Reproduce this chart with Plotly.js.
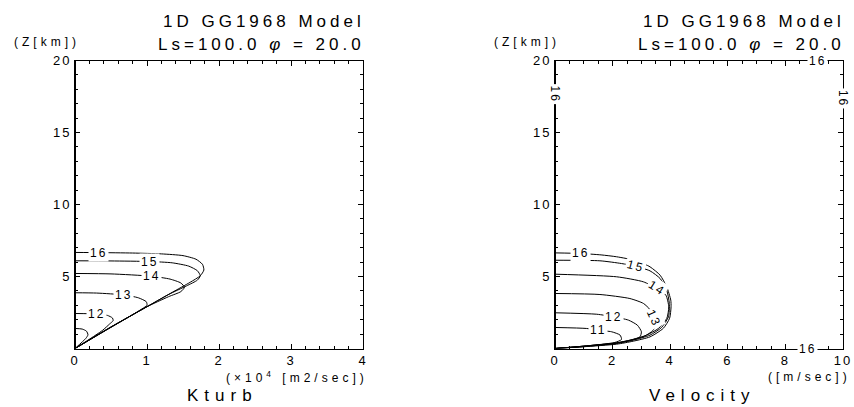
<!DOCTYPE html>
<html>
<head>
<meta charset="utf-8">
<script src="https://cdn.plot.ly/plotly-3.0.1.min.js"></script>
<style>
  html, body { margin: 0; padding: 0; background: #fff; }
  svg text { letter-spacing: 2px; }
  .annotation-text { letter-spacing: 4px; }
  .annotation-text[data-unformatted="11"], .annotation-text[data-unformatted="12"],
  .annotation-text[data-unformatted="13"], .annotation-text[data-unformatted="14"],
  .annotation-text[data-unformatted="15"], .annotation-text[data-unformatted="16"] { letter-spacing: 2px; }
  .annotation-text[data-unformatted="Kturb"], .annotation-text[data-unformatted="Velocity"] { letter-spacing: 6px; }
</style>
</head>
<body>
<div id="chart" style="width:854px;height:407px;"></div>
<script>
// ---------------- data ----------------
const hours = [11, 12, 13, 14, 15, 16];

// Kturb profiles (x10^4 m2/sec) vs height Z (km)
const kturb11X = [0, 0.10, 0.16, 0.18, 0.15, 0];
const kturb11Z = [1.39, 1.35, 1.20, 0.95, 0.70, 0];
const kturb12X = [0, 0.30, 0.45, 0.52, 0.53, 0.48, 0.38, 0];
const kturb12Z = [2.43, 2.40, 2.30, 2.12, 1.94, 1.70, 1.25, 0];
const kturb13X = [0, 0.30, 0.68, 0.88, 0.99, 1.00, 0.93, 0.80, 0.45, 0];
const kturb13Z = [3.87, 3.85, 3.72, 3.52, 3.25, 3.00, 2.75, 2.35, 1.35, 0];
const kturb14X = [0, 0.50, 1.06, 1.32, 1.47, 1.52, 1.47, 1.30, 0.98, 0.50, 0];
const kturb14Z = [5.21, 5.18, 5.02, 4.82, 4.55, 4.25, 3.95, 3.60, 2.85, 1.47, 0];
const kturb15X = [0, 0.50, 1.04, 1.35, 1.58, 1.70, 1.74, 1.70, 1.55, 1.30, 0.99, 0.50, 0];
const kturb15Z = [6.09, 6.08, 6.04, 5.95, 5.72, 5.40, 5.05, 4.75, 4.35, 3.75, 2.88, 1.48, 0];
const kturb16X = [0, 0.32, 0.80, 1.20, 1.50, 1.68, 1.77, 1.79, 1.74, 1.60, 1.35, 1.00, 0.50, 0];
const kturb16Z = [6.67, 6.66, 6.63, 6.57, 6.45, 6.20, 5.85, 5.45, 5.05, 4.60, 3.90, 2.90, 1.50, 0];
const kturbLabelIdx = [null, 1, 2, 2, 2, 1];

// Velocity profiles (m/sec) vs height Z (km)
const vel11X = [0, 1.10, 1.50, 1.97, 2.26, 2.31, 2.08, 0.98, 0];
const vel11Z = [1.46, 1.39, 1.27, 1.16, 0.93, 0.63, 0.42, 0.16, 0];
const vel12X = [0, 1.45, 2.03, 2.55, 2.86, 3.00, 2.95, 2.60, 2.14, 0.98, 0];
const vel12Z = [2.48, 2.38, 2.20, 1.97, 1.62, 1.16, 0.81, 0.58, 0.39, 0.16, 0];
const vel13X = [0, 1.56, 2.60, 3.07, 3.30, 3.44, 3.50, 3.40, 3.10, 2.60, 2.00, 1.00, 0];
const vel13Z = [3.82, 3.75, 3.47, 3.13, 2.70, 2.15, 1.70, 1.25, 0.85, 0.55, 0.33, 0.13, 0];
const vel14X = [0, 2.14, 3.07, 3.53, 3.85, 3.95, 3.88, 3.59, 3.18, 2.72, 2.14, 0.98, 0];
const vel14Z = [5.16, 4.98, 4.63, 4.17, 3.70, 2.89, 2.08, 1.39, 0.93, 0.63, 0.39, 0.16, 0];
const vel15X = [0, 1.56, 2.31, 2.78, 3.30, 3.65, 3.88, 3.97, 3.94, 3.70, 3.30, 2.72, 2.14, 0.98, 0];
const vel15Z = [6.13, 6.09, 5.90, 5.72, 5.39, 4.86, 4.05, 3.13, 2.20, 1.46, 0.93, 0.58, 0.35, 0.14, 0];
const vel16X = [0, 0.87, 1.60, 2.14, 2.84, 3.30, 3.65, 3.88, 4.02, 4.03, 3.98, 3.76, 3.30, 2.72, 2.14, 0.98, 0];
const vel16Z = [6.64, 6.60, 6.50, 6.37, 6.09, 5.67, 5.09, 4.28, 3.36, 2.90, 2.10, 1.40, 0.81, 0.51, 0.30, 0.12, 0];
const velLabelIdx = [2, 2, 5, 3, 3, 1];

const kturbTicks = [0, 1, 2, 3, 4];
const velTicks = [0, 2, 4, 6, 8, 10];
const zTicks = [5, 10, 15, 20];

// ---------------- styles ----------------
const FONT = 'Liberation Sans, Arial, sans-serif';
const velLabelAngle = [0, 0, 65, 32, 15, 0];

const kturbX = [kturb11X, kturb12X, kturb13X, kturb14X, kturb15X, kturb16X];
const kturbZ = [kturb11Z, kturb12Z, kturb13Z, kturb14Z, kturb15Z, kturb16Z];
const velX = [vel11X, vel12X, vel13X, vel14X, vel15X, vel16X];
const velZ = [vel11Z, vel12Z, vel13Z, vel14Z, vel15Z, vel16Z];

const traces = [];
const annotations = [];
const lineStyle = {color: '#000', width: 1, shape: 'spline', smoothing: 0.6};
hours.forEach((h, i) => {
  traces.push({x: kturbX[i], y: kturbZ[i], xaxis: 'x', yaxis: 'y', type: 'scatter', mode: 'lines',
    line: lineStyle, hoverinfo: 'skip'});
  traces.push({x: velX[i], y: velZ[i], xaxis: 'x2', yaxis: 'y2', type: 'scatter', mode: 'lines',
    line: lineStyle, hoverinfo: 'skip'});
  const ki = kturbLabelIdx[i];
  if (ki !== null) {
    annotations.push({x: kturbX[i][ki], y: kturbZ[i][ki], xref: 'x', yref: 'y', text: String(h),
      showarrow: false, bgcolor: '#fff', borderpad: 1, font: {family: FONT, size: 12, color: '#000'}});
  }
  const vi = velLabelIdx[i];
  annotations.push({x: velX[i][vi], y: velZ[i][vi], xref: 'x2', yref: 'y2', text: String(h),
    textangle: velLabelAngle[i], showarrow: false, bgcolor: '#fff', borderpad: 1,
    font: {family: FONT, size: 12, color: '#000'}});
});

// "16" labels sitting on the frame of the velocity panel
const frameLabels = [
  {x: 9.1, y: 20, a: 0}, {x: 8.75, y: 0, a: 0}, {x: 0, y: 17.7, a: 90}, {x: 10, y: 17.4, a: 90}
];
frameLabels.forEach(f => annotations.push({x: f.x, y: f.y, xref: 'x2', yref: 'y2', text: '16',
  textangle: f.a, showarrow: false, bgcolor: '#fff', borderpad: 1, font: {family: FONT, size: 12, color: '#000'}}));

const W = 854, H = 407;
const px = v => v / W, py = v => 1 - v / H;
function txt(text, x, y, size, anchor) {
  return {text, x: px(x), y: py(y), xref: 'paper', yref: 'paper', xanchor: anchor, yanchor: 'middle',
    showarrow: false, borderpad: 0, font: {family: FONT, size, color: '#000'}};
}
annotations.push(
  txt('1D GG1968 Model', 366, 21, 17, 'right'),
  txt('Ls=100.0 <i>φ</i> = 20.0', 366, 44, 17, 'right'),
  txt('(Z[km])', 81, 42, 12, 'right'),
  txt('(×10<sup>4</sup> [m2/sec])', 369, 377, 12, 'right'),
  txt('Kturb', 222, 395, 17, 'center'),
  txt('1D GG1968 Model', 846, 21, 17, 'right'),
  txt('Ls=100.0 <i>φ</i> = 20.0', 846, 44, 17, 'right'),
  txt('(Z[km])', 561, 42, 12, 'right'),
  txt('([m/sec])', 852, 377, 12, 'right'),
  txt('Velocity', 702, 395, 17, 'center')
);

// thicker left frame lines (as in the reference)
const shapes = [
  {type: 'line', xref: 'x', yref: 'y', x0: 0, x1: 0, y0: 0, y1: 20, line: {color: '#000', width: 2}},
  {type: 'line', xref: 'x2', yref: 'y2', x0: 0, x1: 0, y0: 0, y1: 20, line: {color: '#000', width: 2}}
];

function ax(domain, range, ticks, minorStep, anchor) {
  return {domain, range, anchor, tickmode: 'array', tickvals: ticks, ticktext: ticks.map(String),
    ticks: 'inside', ticklen: 5, tickwidth: 1, tickcolor: '#000', mirror: 'allticks',
    showline: true, linecolor: '#000', linewidth: 1, showgrid: false, zeroline: false,
    minor: {dtick: minorStep, tick0: 0, ticks: 'inside', ticklen: 3, tickcolor: '#000', showgrid: false},
    tickfont: {family: FONT, size: 13, color: '#000'}, fixedrange: true};
}
const yDom = [py(348.5), py(60.5)];
const layout = {
  width: W, height: H, margin: {l: 0, r: 0, t: 0, b: 0},
  paper_bgcolor: '#fff', plot_bgcolor: '#fff', showlegend: false,
  xaxis: ax([px(75), px(363)], [0, 4], kturbTicks, 0.2, 'y'),
  yaxis: ax(yDom, [0, 20], zTicks, 1, 'x'),
  xaxis2: ax([px(555), px(843)], [0, 10], velTicks, 0.5, 'y2'),
  yaxis2: ax(yDom, [0, 20], zTicks, 1, 'x2'),
  shapes, annotations
};
Plotly.newPlot('chart', traces, layout, {staticPlot: true, displayModeBar: false});
</script>
</body>
</html>
